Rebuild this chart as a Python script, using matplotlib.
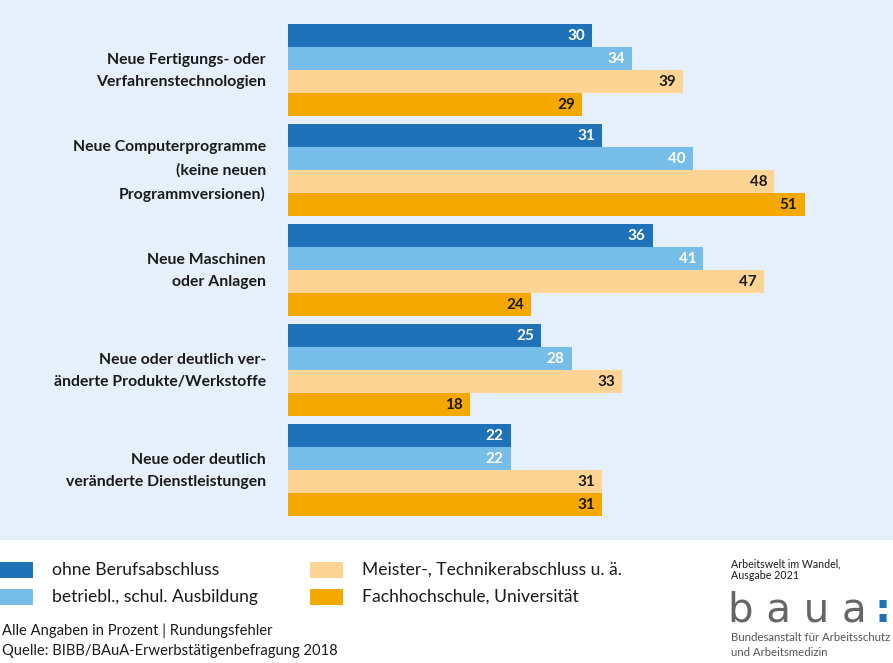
import matplotlib.pyplot as plt
from matplotlib.patches import Rectangle

# Daten
categories = [
    "Neue Fertigungs- oder\nVerfahrenstechnologien",
    "Neue Computerprogramme\n(keine neuen\nProgrammversionen)",
    "Neue Maschinen\noder Anlagen",
    "Neue oder deutlich ver-\nänderte Produkte/Werkstoffe",
    "Neue oder deutlich\nveränderte Dienstleistungen",
]
series_names = [
    "ohne Berufsabschluss",
    "betriebl., schul. Ausbildung",
    "Meister-, Technikerabschluss u. ä.",
    "Fachhochschule, Universität",
]
ohne = [30, 31, 36, 25, 22]
betrieblich = [34, 40, 41, 28, 22]
meister = [39, 48, 47, 33, 31]
fachhochschule = [29, 51, 24, 18, 31]

colors = ["#1f71b8", "#76bde8", "#fdd493", "#f5a800"]
text_colors = ["white", "white", "#1a1a1a", "#1a1a1a"]
bg = "#e6f0fa"

plt.rcParams["font.family"] = ["Lato", "DejaVu Sans"]

W, H = 893, 663
fig = plt.figure(figsize=(W / 100, H / 100), dpi=100)

# heller Hintergrund oben
fig.patches.append(Rectangle((0, (H - 540) / H), 1, 540 / H, transform=fig.transFigure,
                             facecolor=bg, edgecolor="none", zorder=-5))

# Achse in Pixelkoordinaten
x0 = 288
ax = fig.add_axes([x0 / W, (H - 540) / H, (W - x0) / W, 540 / H])
ax.set_facecolor("none")
ax.set_zorder(2)
px_per_unit = 10.13
ax.set_xlim(0, (W - x0) / px_per_unit)
ax.set_ylim(540, 0)
ax.axis("off")

all_series = [ohne, betrieblich, meister, fachhochschule]
bar_h = 23
group_step = 100
first_top = 24

for k, vals in enumerate(all_series):
    ys = [first_top + g * group_step + k * bar_h + bar_h / 2 for g in range(len(vals))]
    ax.barh(ys, vals, height=bar_h, color=colors[k], edgecolor="none")
    for y, v in zip(ys, vals):
        ax.text(v - 0.7, y + 0.5, str(v), ha="right", va="center", fontsize=11,
                fontweight="bold", color=text_colors[k])

# Kategorienbeschriftung
for g, label in enumerate(categories):
    yc = first_top + g * group_step + 2 * bar_h
    fig.text(266 / W, 1 - (yc + 1) / H, label, ha="right", va="center", fontsize=11.3,
             fontweight="bold", color="#1a1a1a", linespacing=1.78,
             multialignment="right")

# Legende
leg_rows = [570, 597]
leg_cols = [(0, 52), (310, 362)]
for i, name in enumerate(series_names):
    col = leg_cols[i // 2]
    row = leg_rows[i % 2]
    fig.patches.append(Rectangle((col[0] / W, 1 - (row + 8) / H), 33 / W, 16 / H,
                                 transform=fig.transFigure, facecolor=colors[i],
                                 edgecolor="none"))
    fig.text(col[1] / W, 1 - row / H, name, ha="left", va="center", fontsize=12.6,
             color="#1a1a1a")

# Hinweise
fig.text(2 / W, 1 - 631 / H, "Alle Angaben in Prozent | Rundungsfehler", ha="left",
         va="center", fontsize=10.6, color="#1a1a1a")
fig.text(2 / W, 1 - 651 / H, "Quelle: BIBB/BAuA-Erwerbstätigenbefragung 2018", ha="left",
         va="center", fontsize=10.6, color="#1a1a1a")

# Logo-Bereich
fig.text(731 / W, 1 - 570 / H, "Arbeitswelt im Wandel,\nAusgabe 2021", ha="left",
         va="center", fontsize=7.7, color="#1a1a1a", linespacing=1.05)
fig.text(728 / W, 1 - 611 / H, "b a u a", ha="left", va="center", fontsize=29,
         color="#666666", family=["DejaVu Sans"])
fig.text(891 / W, 1 - 611 / H, ":", ha="right", va="center", fontsize=29,
         color="#1f71b8", fontweight="bold", family=["DejaVu Sans"])
fig.text(731 / W, 1 - 645 / H, "Bundesanstalt für Arbeitsschutz\nund Arbeitsmedizin",
         ha="left", va="center", fontsize=8.2, color="#555555", linespacing=1.45)

fig.savefig("out.png", dpi=100)
